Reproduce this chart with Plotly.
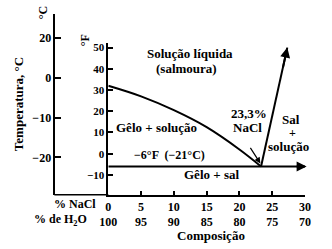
import plotly.graph_objects as go

W, H = 332, 249


def px(x):
    return x / W


def py(y):
    return 1 - y / H


FONT = "Liberation Serif"

# ---- data ----
nacl_pct = [0, 5, 10, 15, 20, 25, 30]
h2o_pct = [100, 95, 90, 85, 80, 75, 70]
f_ticks = [-10, 0, 10, 20, 30, 40, 50]
f_ticktext = ["−10", "0", "10", "20", "30", "40", "50"]
c_tickvals = [10, 0, -10, -20]
c_ticktext = ["20", "0", "−10", "−20"]

liq_x = [0, 5, 10, 15, 20, 23.3]          # liquidus curve (% NaCl)
liq_y = [32, 27, 20.5, 12.5, 2, -6]       # °F
sol_x = [23.3, 27.3]                      # salt solubility line
sol_y = [-6, 50]
eut_x = [0, 30]                           # eutectic line
eut_y = [-6, -6]

fig = go.Figure()
line_style = dict(color="black", width=2)
fig.add_trace(go.Scatter(x=liq_x, y=liq_y, mode="lines", line=dict(color="black", width=2, shape="spline"),
                         hoverinfo="skip", showlegend=False, cliponaxis=False))
fig.add_trace(go.Scatter(x=sol_x, y=sol_y, mode="lines", line=line_style,
                         hoverinfo="skip", showlegend=False, cliponaxis=False))
fig.add_trace(go.Scatter(x=eut_x, y=eut_y, mode="lines", line=line_style,
                         hoverinfo="skip", showlegend=False, cliponaxis=False))
# dummy trace to show the Celsius axis
fig.add_trace(go.Scatter(x=[0], y=[0], xaxis="x", yaxis="y2", mode="lines",
                         hoverinfo="skip", showlegend=False))

ann = []


def text(x, y, s, ref="x", size=13, angle=0):
    ann.append(dict(x=x, y=y, xref=ref, yref=("y" if ref == "x" else "paper"), text=s,
                    showarrow=False, font=dict(family=FONT, size=size, color="black", weight="bold"),
                    textangle=angle, xanchor="center", yanchor="middle"))


text(12.5, 47.1, "Solução líquida")
text(11.9, 40.0, "(salmoura)")
text(7.4, 12.3, "Gêlo + solução")
text(21.4, 18.9, "23,3%")
text(21.2, 12.3, "NaCl")
text(27.9, 16.2, "Sal")
text(28.1, 9.8, "+", size=12)
text(27.5, 3.6, "solução")
text(9.4, -0.8, "−6°F  (−21°C)", size=12)
text(15.7, -9.7, "Gêlo + sal")

text(px(212), py(235), "Composição", ref="paper")
text(px(10), py(104), "Temperatura, °C", ref="paper", angle=-90)
text(px(36), py(12), "°C", ref="paper", size=12, angle=-90)
text(px(79), py(39), "°F", ref="paper", size=12, angle=-90)
text(px(69), py(204), "% NaCl", ref="paper", size=12)
text(px(54), py(220), "% de H<sub>2</sub>O", ref="paper", size=12)

# arrowheads
ann.append(dict(x=27.3, y=50, ax=26.6, ay=40, xref="x", yref="y", axref="x", ayref="y",
                text="", showarrow=True, arrowhead=2, arrowsize=1, arrowwidth=2, arrowcolor="black"))
ann.append(dict(x=30.25, y=-6, ax=28.5, ay=-6, xref="x", yref="y", axref="x", ayref="y",
                text="", showarrow=True, arrowhead=2, arrowsize=1, arrowwidth=2, arrowcolor="black"))
ann.append(dict(x=23.2, y=-4.6, ax=-11, ay=-17, xref="x", yref="y",
                text="", showarrow=True, arrowhead=2, arrowsize=1, arrowwidth=1.2, arrowcolor="black"))

axis_common = dict(showline=True, linecolor="black", linewidth=1.5, showgrid=False, zeroline=False,
                   ticks="inside", tickcolor="black", tickwidth=1.5)

fig.update_layout(
    width=W, height=H, margin=dict(l=0, r=0, t=0, b=0),
    paper_bgcolor="white", plot_bgcolor="rgba(0,0,0,0)",
    font=dict(family=FONT, color="black"),
    showlegend=False,
    xaxis=dict(domain=[px(104), px(310)], range=[0, 30], tickvals=nacl_pct,
               ticktext=[f"{a}<br>{b}" for a, b in zip(nacl_pct, h2o_pct)],
               ticklen=4, tickfont=dict(family=FONT, size=12, color="black", weight="bold"),
               anchor="y", **axis_common),
    yaxis=dict(domain=[py(194.5), py(42)], range=[-19.34, 52.25], tickvals=f_ticks, ticktext=f_ticktext,
               ticklen=5, tickfont=dict(family=FONT, size=11, color="black", weight="bold"),
               anchor="x", **axis_common),
    yaxis2=dict(domain=[py(194.5), py(13)], range=[-29.375, 16], tickvals=c_tickvals, ticktext=c_ticktext,
                ticklen=6, tickfont=dict(family=FONT, size=12, color="black", weight="bold"),
                anchor="free", position=px(47.5), **axis_common),
    annotations=ann,
    shapes=[dict(type="line", xref="paper", yref="paper", x0=px(47.5), x1=px(104),
                 y0=py(194.5), y1=py(194.5), line=dict(color="black", width=1.5))],
)

fig.write_html("out.html")
